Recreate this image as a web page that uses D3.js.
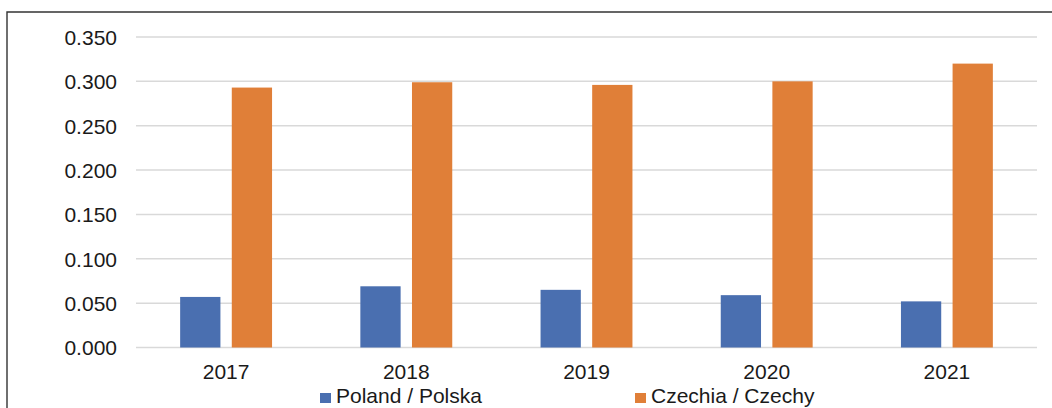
<!DOCTYPE html>
<html>
<head>
<meta charset="utf-8">
<script src="https://cdn.jsdelivr.net/npm/d3@7"></script>
<style>
  html, body { margin: 0; padding: 0; background: #fff; }
  svg { display: block; font-family: "Liberation Sans", Arial, sans-serif; }
</style>
</head>
<body>
<svg id="chart" width="1052" height="408"></svg>
<script>
const years = ["2017", "2018", "2019", "2020", "2021"];
const seriesNames = ["Poland / Polska", "Czechia / Czechy"];
const poland = [0.057, 0.069, 0.065, 0.059, 0.052];
const czechia = [0.293, 0.299, 0.296, 0.300, 0.320];
const yTicks = [0, 0.05, 0.10, 0.15, 0.20, 0.25, 0.30, 0.35];
const colors = ["#4a6fb0", "#e07f38"];

const svg = d3.select("#chart");
const seriesValues = [poland, czechia];

const x0 = d3.scaleBand().domain(years).range([136, 1037]).paddingInner(0.49).paddingOuter(0.245);
const x1 = d3.scaleBand().domain(seriesNames).range([0, x0.bandwidth()]).paddingInner(0.22);
const y = d3.scaleLinear().domain([0, 0.35]).range([347.5, 37]);

// outer border
svg.append("path")
  .attr("d", "M7,412 L7,12 L1060,12")
  .attr("fill", "none").attr("stroke", "#333").attr("stroke-width", 1.4);

// gridlines
svg.append("g").selectAll("line").data(yTicks).join("line")
  .attr("x1", 136).attr("x2", 1037)
  .attr("y1", d => y(d)).attr("y2", d => y(d))
  .attr("stroke", "#d9d9d9").attr("stroke-width", 1.5);

// y axis labels
const yAxis = d3.axisLeft(y).tickValues(yTicks).tickFormat(d3.format(".3f")).tickSize(0).tickPadding(0);
const gy = svg.append("g").attr("transform", "translate(117,0)").call(yAxis);
gy.select(".domain").remove();
gy.selectAll("text").attr("font-size", 21).attr("fill", "#1a1a1a")
  .attr("font-family", "Liberation Sans, Arial, sans-serif").attr("dy", "0.35em");

// bars
const groups = svg.append("g").selectAll("g").data(years).join("g")
  .attr("transform", d => `translate(${x0(d)},0)`);
groups.selectAll("rect")
  .data((d, i) => seriesNames.map((s, j) => ({ s, j, v: seriesValues[j][i] })))
  .join("rect")
  .attr("x", d => x1(d.s))
  .attr("width", x1.bandwidth())
  .attr("y", d => y(d.v))
  .attr("height", d => y(0) - y(d.v))
  .attr("fill", d => colors[d.j]);

// x axis labels
const xAxis = d3.axisBottom(x0).tickSize(0).tickPadding(0);
const gx = svg.append("g").attr("transform", "translate(0,363)").call(xAxis);
gx.select(".domain").remove();
gx.selectAll("text").attr("font-size", 21).attr("fill", "#1a1a1a")
  .attr("font-family", "Liberation Sans, Arial, sans-serif").attr("dy", "0.76em");

// legend
const legendX = [320, 635];
const legend = svg.append("g").selectAll("g").data(seriesNames).join("g")
  .attr("transform", (d, i) => `translate(${legendX[i]},0)`);
legend.append("rect").attr("x", 0).attr("y", 393).attr("width", 11).attr("height", 10)
  .attr("fill", (d, i) => colors[i]);
legend.append("text").attr("x", 16).attr("y", 402.5)
  .attr("font-size", 21).attr("fill", "#1a1a1a").text(d => d);
</script>
</body>
</html>
